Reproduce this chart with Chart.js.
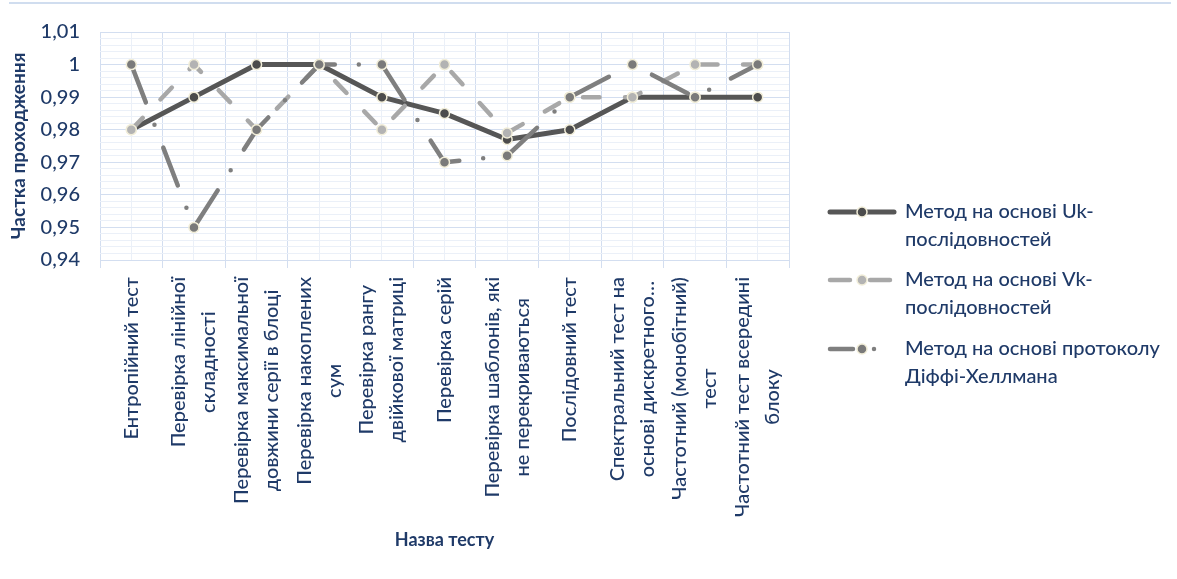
<!DOCTYPE html>
<html lang="uk">
<head>
<meta charset="utf-8">
<title>Частка проходження тестів</title>
<script src="https://cdn.jsdelivr.net/npm/chart.js@4.4.1/dist/chart.umd.min.js"></script>
<style>
  html, body { margin: 0; padding: 0; background: #ffffff; }
  #wrap { width: 1177px; height: 579px; }
  canvas { display: block; }
</style>
</head>
<body>
<div id="wrap"><canvas id="chart" width="1177" height="579"></canvas></div>
<script>
// Test names (each entry is the wrapped lines of one label)
const categories = [
  ['Ентропійний тест'],
  ['Перевірка лінійної', 'складності'],
  ['Перевірка максимальної', 'довжини серії в блоці'],
  ['Перевірка накоплених', 'сум'],
  ['Перевірка рангу', 'двійкової матриці'],
  ['Перевірка серій'],
  ['Перевірка шаблонів, які', 'не перекриваються'],
  ['Послідовний тест'],
  ['Спектральний тест на', 'основі дискретного…'],
  ['Частотний (монобітний)', 'тест'],
  ['Частотний тест всередині', 'блоку']
];

// Pass rates per method
const ukValues = [0.98, 0.99, 1, 1, 0.99, 0.985, 0.977, 0.98, 0.99, 0.99, 0.99];
const vkValues = [0.98, 1, 0.98, 1, 0.98, 1, 0.979, 0.99, 0.99, 1, 1];
const dhValues = [1, 0.95, 0.98, 1, 1, 0.97, 0.972, 0.99, 1, 0.99, 1];

const seriesNames = [
  ['Метод на основі Uk-', 'послідовностей'],
  ['Метод на основі Vk-', 'послідовностей'],
  ['Метод на основі протоколу', 'Діффі-Хеллмана']
];

// Y axis range and steps
const yMin = 0.94;
const yMax = 1.01;
const yMajorStep = 0.01;
const yMinorStep = 0.002;

const FONT = 'Lato, "Open Sans", "DejaVu Sans", sans-serif';
const TEXT_WEIGHT = 500;
const NAVY = '#1f3a68';
const GRID_MAJOR = '#d3def0';
const GRID_MINOR = '#ebf0f8';
const MARKER_EDGE = '#f1edd8';

function isMajor(v) {
  const k = v / yMajorStep;
  return Math.abs(k - Math.round(k)) < 1e-6;
}
function formatTick(v) {
  return String(Number(v.toFixed(2))).replace('.', ',');
}

// Top rule line above the chart
const frameLine = {
  id: 'frameLine',
  beforeDraw(chart) {
    const ctx = chart.ctx;
    ctx.save();
    ctx.strokeStyle = '#d0ddef';
    ctx.lineWidth = 2;
    ctx.beginPath();
    ctx.moveTo(9, 3);
    ctx.lineTo(1171, 3);
    ctx.stroke();
    ctx.restore();
  }
};

// Vertical, centred multi-line category labels under the x axis
const categoryLabels = {
  id: 'categoryLabels',
  afterDraw(chart) {
    const scale = chart.scales.x;
    const ctx = chart.ctx;
    const endY = scale.top + 17;
    const lineGap = 30;
    ctx.save();
    ctx.font = TEXT_WEIGHT + ' 20px ' + FONT;
    ctx.fillStyle = NAVY;
    ctx.textAlign = 'center';
    ctx.textBaseline = 'middle';
    categories.forEach((lines, i) => {
      const x = scale.getPixelForTick(i);
      const maxW = Math.max(...lines.map(l => ctx.measureText(l).width));
      ctx.save();
      ctx.translate(x, endY);
      ctx.rotate(-Math.PI / 2);
      lines.forEach((line, j) => {
        ctx.fillText(line, -maxW / 2, (j - (lines.length - 1) / 2) * lineGap);
      });
      ctx.restore();
    });
    ctx.restore();
  }
};

// Legend on the right: line sample with marker, two-line caption
const sideLegend = {
  id: 'sideLegend',
  afterDraw(chart) {
    const ctx = chart.ctx;
    const x0 = 830, x1 = 894, xm = 862, xt = 905;
    const tops = [212, 280, 349];
    const sampleDash = [[], [20, 20], [23, 21, 0, 200]];
    chart.data.datasets.forEach((ds, i) => {
      const y = tops[i];
      ctx.save();
      ctx.strokeStyle = ds.borderColor;
      ctx.lineWidth = ds.borderWidth;
      ctx.lineCap = 'round';
      ctx.setLineDash(sampleDash[i]);
      ctx.beginPath();
      ctx.moveTo(x0, y);
      ctx.lineTo(x1, y);
      ctx.stroke();
      ctx.setLineDash([]);
      ctx.beginPath();
      ctx.arc(xm, y, ds.pointRadius, 0, Math.PI * 2);
      ctx.fillStyle = ds.pointBackgroundColor;
      ctx.fill();
      ctx.lineWidth = ds.pointBorderWidth;
      ctx.strokeStyle = ds.pointBorderColor;
      ctx.stroke();
      ctx.font = TEXT_WEIGHT + ' 20px ' + FONT;
      ctx.fillStyle = NAVY;
      ctx.textAlign = 'left';
      ctx.textBaseline = 'middle';
      seriesNames[i].forEach((line, j) => ctx.fillText(line, xt, y + j * 28));
      ctx.restore();
    });
  }
};

const ctx = document.getElementById('chart').getContext('2d');
new Chart(ctx, {
  type: 'line',
  data: {
    labels: categories.map(c => c.join(' ')),
    datasets: [
      {
        label: seriesNames[0].join(''),
        data: ukValues,
        borderColor: '#565656',
        borderWidth: 5,
        borderCapStyle: 'round',
        borderJoinStyle: 'round',
        pointRadius: 5,
        pointBackgroundColor: '#4c4c4c',
        pointBorderColor: MARKER_EDGE,
        pointBorderWidth: 1.5,
        tension: 0,
        order: 3
      },
      {
        label: seriesNames[1].join(''),
        data: vkValues,
        borderColor: '#a8a8a8',
        borderWidth: 4.5,
        borderDash: [16.5, 25.5],
        borderCapStyle: 'round',
        borderJoinStyle: 'round',
        pointRadius: 5,
        pointBackgroundColor: '#b3b3b3',
        pointBorderColor: MARKER_EDGE,
        pointBorderWidth: 1.5,
        tension: 0,
        order: 2
      },
      {
        label: seriesNames[2].join(' '),
        data: dhValues,
        borderColor: '#7f7f7f',
        borderWidth: 4.5,
        borderDash: [40.5, 24, 0, 24.5],
        borderCapStyle: 'round',
        borderJoinStyle: 'round',
        pointRadius: 5,
        pointBackgroundColor: '#7a7a7a',
        pointBorderColor: MARKER_EDGE,
        pointBorderWidth: 1.5,
        tension: 0,
        order: 1
      }
    ]
  },
  options: {
    responsive: false,
    animation: false,
    events: [],
    layout: { padding: { left: 0, top: 32, right: 388, bottom: 28 } },
    plugins: {
      legend: { display: false },
      tooltip: { enabled: false }
    },
    scales: {
      x: {
        type: 'category',
        position: 'bottom',
        offset: true,
        grid: { offset: true, color: GRID_MAJOR, lineWidth: 1, tickLength: 8, drawTicks: true },
        border: { color: GRID_MAJOR },
        ticks: { display: false },
        title: {
          display: true,
          text: 'Назва тесту',
          color: NAVY,
          font: { family: FONT, size: 18, weight: 'bold' },
          padding: { top: 0, bottom: 0 }
        },
        afterFit(scale) { scale.height = 579 - 28 - 260; }
      },
      xMinor: {
        type: 'category',
        position: 'bottom',
        offset: true,
        grid: { offset: false, color: GRID_MINOR, lineWidth: 1, drawTicks: false },
        border: { display: false },
        ticks: { display: false }
      },
      y: {
        min: yMin,
        max: yMax,
        ticks: {
          stepSize: yMinorStep,
          autoSkip: false,
          maxTicksLimit: 100,
          padding: 20,
          color: NAVY,
          font: { family: FONT, size: 20, weight: TEXT_WEIGHT },
          callback: v => (isMajor(v) ? formatTick(v) : '')
        },
        grid: {
          drawTicks: false,
          lineWidth: 1,
          color: c => (c.tick && isMajor(c.tick.value) ? GRID_MAJOR : GRID_MINOR)
        },
        border: { display: false },
        title: {
          display: true,
          text: 'Частка проходження',
          color: NAVY,
          font: { family: FONT, size: 19, weight: 'bold' },
          padding: { top: 7, bottom: 0 }
        },
        afterFit(scale) { scale.width = 100; }
      }
    }
  },
  plugins: [frameLine, categoryLabels, sideLegend]
});
</script>
</body>
</html>
